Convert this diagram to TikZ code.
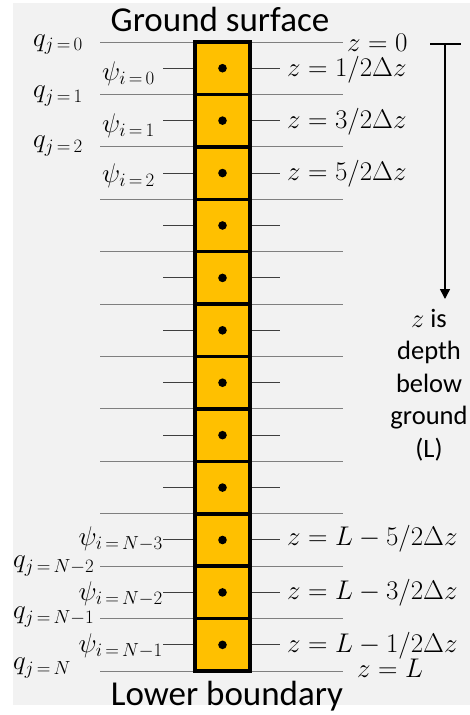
\RequirePackage{fix-cm}
\documentclass[tikz,border=0pt]{standalone}
\usepackage{fontspec}
\setmainfont{Carlito}
\usetikzlibrary{arrows.meta}
\definecolor{bgc}{HTML}{F2F2F2}
\definecolor{cellc}{HTML}{FFC000}
\definecolor{longc}{HTML}{7F7F7F}
\definecolor{shortc}{HTML}{3F3F3F}
\newcommand{\seq}{\,{=}\,}
\begin{document}
\begin{tikzpicture}[x=1pt,y=-1pt,
  mathlbl/.style={inner sep=0pt,font=\fontsize{27}{32}\selectfont},
  titlelbl/.style={inner sep=0pt,anchor=base,font=\fontsize{35}{40}\selectfont},
  sidelbl/.style={inner sep=0pt,anchor=base,font=\fontsize{26.5}{32}\selectfont},
  longline/.style={draw=longc,line width=1pt},
  shortline/.style={draw=shortc,line width=1pt},
  cellbox/.style={fill=cellc,draw=black,line width=3.5pt},
  dotmark/.style={fill=black},
  axisline/.style={draw=black,line width=1.5pt}]
\useasboundingbox (0,0) rectangle (470,715);
\fill[bgc] (13,3) rectangle (470,705);
% boundary lines (long)
\foreach \k in {0,...,12}{
  \coordinate (bl\k) at (100,{42+\k*52.42});
  \coordinate (br\k) at (343,{42+\k*52.42});
  \draw[longline] (bl\k) -- (br\k);
}
% short lines at cell centres
\foreach \k in {0,...,11}{
  \coordinate (sl\k) at (163,{68.21+\k*52.42});
  \coordinate (slr\k) at (195,{68.21+\k*52.42});
  \coordinate (sr\k) at (250,{68.21+\k*52.42});
  \coordinate (srr\k) at (280,{68.21+\k*52.42});
  \draw[shortline] (sl\k) -- (slr\k);
  \draw[shortline] (sr\k) -- (srr\k);
}
% cells
\foreach \k in {0,...,11}{
  \draw[cellbox] (195,{42+\k*52.42}) rectangle (250,{42+(\k+1)*52.42});
}
\foreach \k in {0,...,11}{
  \fill[dotmark] (222.5,{68.21+\k*52.42}) circle (4.3pt);
}
% titles
\node[titlelbl] (ground) at (220,31) {Ground surface};
\node[titlelbl] (lower) at (227,705) {Lower boundary};
% q labels
\node[mathlbl,anchor=west] (q0) at (33,44.5) {$q_{j\seq 0}$};
\node[mathlbl,anchor=west] (q1) at (33,96) {$q_{j\seq 1}$};
\node[mathlbl,anchor=west] (q2) at (33,146) {$q_{j\seq 2}$};
\node[mathlbl,anchor=west] (qn2) at (13,566) {$q_{j\seq N-2}$};
\node[mathlbl,anchor=west] (qn1) at (13,617) {$q_{j\seq N-1}$};
\node[mathlbl,anchor=west] (qn) at (13,668) {$q_{j\seq N}$};
% psi labels
\node[mathlbl,anchor=east] (p0) at (155,74) {$\psi_{i\seq 0}$};
\node[mathlbl,anchor=east] (p1) at (155,126) {$\psi_{i\seq 1}$};
\node[mathlbl,anchor=east] (p2) at (155,176) {$\psi_{i\seq 2}$};
\node[mathlbl,anchor=east] (pn3) at (163,539) {$\psi_{i\seq N-3}$};
\node[mathlbl,anchor=east] (pn2) at (163,594) {$\psi_{i\seq N-2}$};
\node[mathlbl,anchor=east] (pn1) at (163,646) {$\psi_{i\seq N-1}$};
% z labels
\node[mathlbl,anchor=west] (z0) at (347,42.5) {$z=0$};
\node[mathlbl,anchor=west] (z1) at (287,70) {$z=1/2\Delta z$};
\node[mathlbl,anchor=west] (z2) at (287,122) {$z=3/2\Delta z$};
\node[mathlbl,anchor=west] (z3) at (287,174) {$z=5/2\Delta z$};
\node[mathlbl,anchor=west] (zn3) at (287,539) {$z=L-5/2\Delta z$};
\node[mathlbl,anchor=west] (zn2) at (287,593) {$z=L-3/2\Delta z$};
\node[mathlbl,anchor=west] (zn1) at (287,646) {$z=L-1/2\Delta z$};
\node[mathlbl,anchor=west] (zL) at (357,668) {$z=L$};
% depth axis
\coordinate (tickl) at (430,44);
\coordinate (tickr) at (461,44);
\coordinate (axtop) at (445,44);
\coordinate (axbot) at (445,299);
\draw[axisline] (tickl) -- (tickr);
\draw[axisline,-{Triangle[length=10pt,width=10pt]}] (axtop) -- (axbot);
\node[sidelbl] (d1) at (429,327) {$z$ is};
\node[sidelbl] (d2) at (429,359.5) {depth};
\node[sidelbl] (d3) at (429,392) {below};
\node[sidelbl] (d4) at (429,424.5) {ground};
\node[sidelbl] (d5) at (429,457) {(L)};
\end{tikzpicture}
\end{document}
